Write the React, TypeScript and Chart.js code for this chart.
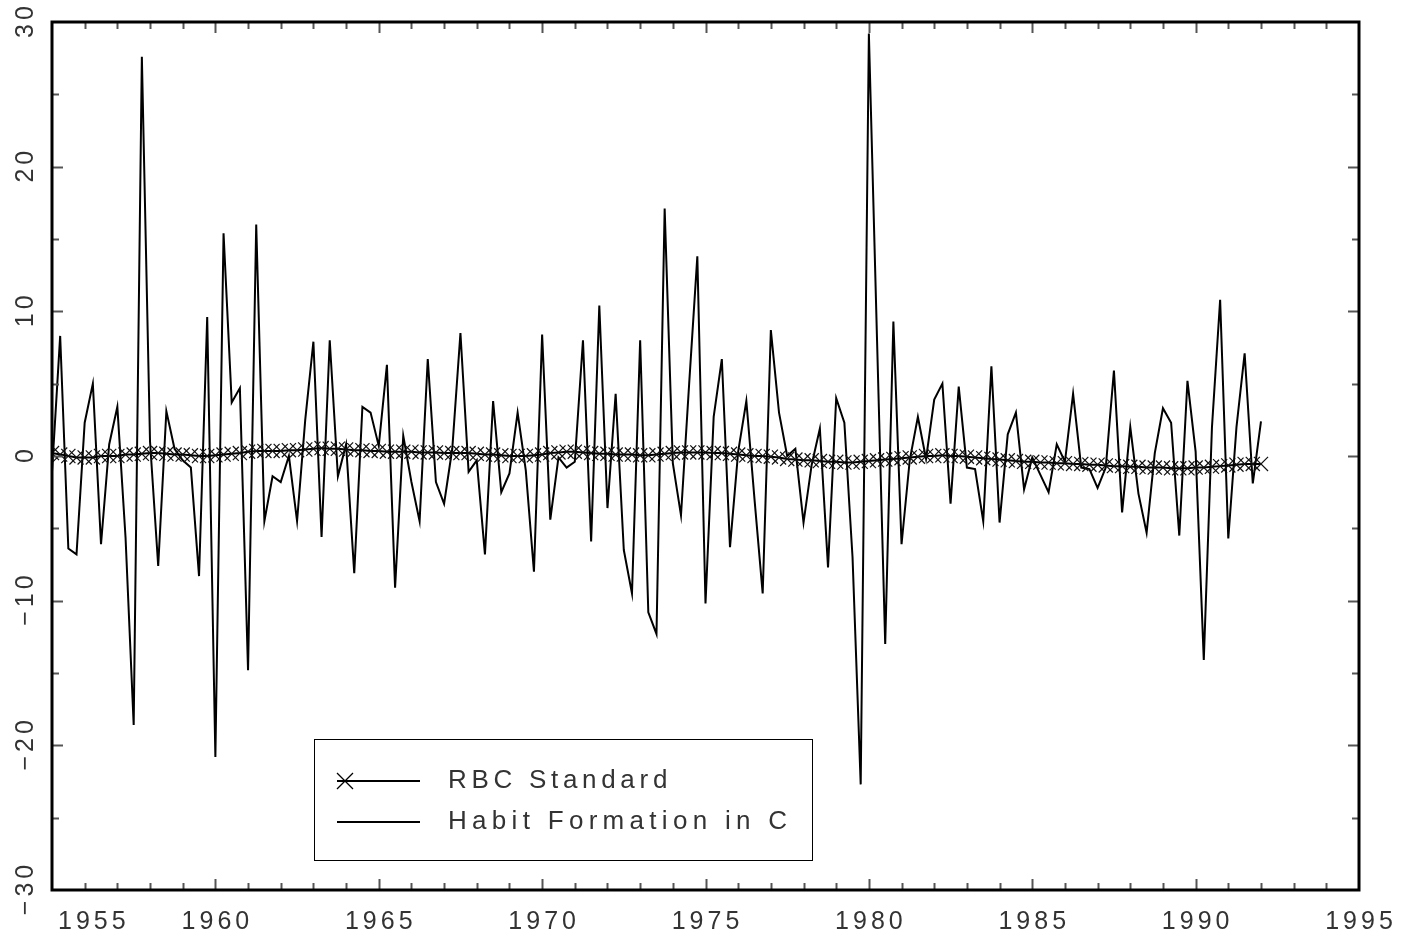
import React, { useEffect, useRef } from "react";
import { Chart, registerables } from "chart.js";

Chart.register(...registerables);

// ---- Data (quarterly, starting 1955Q1) ----
const START_YEAR = 1955;

const rbcStandard = [
  0.2, 0.1, 0.0, -0.1,
  -0.1, -0.1, 0.0, 0.0,
  0.0, 0.1, 0.1, 0.15,
  0.2, 0.2, 0.15, 0.1,
  0.1, 0.05, 0.0, 0.0,
  0.05, 0.1, 0.15, 0.2,
  0.3, 0.35, 0.35, 0.35,
  0.35, 0.4, 0.4, 0.45,
  0.5, 0.55, 0.5, 0.5,
  0.45, 0.4, 0.4, 0.35,
  0.35, 0.3, 0.3, 0.3,
  0.3, 0.25, 0.25, 0.25,
  0.2, 0.2, 0.2, 0.2,
  0.15, 0.1, 0.1, 0.05,
  0.0, 0.0, 0.0, 0.05,
  0.1, 0.2, 0.25, 0.3,
  0.3, 0.25, 0.2, 0.15,
  0.15, 0.1, 0.1, 0.1,
  0.05, 0.05, 0.1, 0.15,
  0.2, 0.25, 0.25, 0.25,
  0.25, 0.2, 0.2, 0.15,
  0.1, 0.05, 0.0, 0.0,
  -0.05, -0.1, -0.2, -0.25,
  -0.3, -0.3, -0.35, -0.4,
  -0.4, -0.45, -0.45, -0.4,
  -0.35, -0.3, -0.25, -0.2,
  -0.15, -0.1, -0.05, 0.0,
  0.0, 0.05, 0.0, 0.0,
  -0.05, -0.1, -0.15, -0.2,
  -0.25, -0.3, -0.35, -0.4,
  -0.4, -0.45, -0.45, -0.5,
  -0.5, -0.55, -0.55, -0.6,
  -0.6, -0.65, -0.7, -0.7,
  -0.75, -0.75, -0.8, -0.8,
  -0.8, -0.85, -0.85, -0.85,
  -0.8, -0.8, -0.75, -0.7,
  -0.65, -0.6, -0.55, -0.55,
  -0.55,
];

const habitFormation = [
  -1.1, 8.3, -6.4, -6.8,
  2.3, 5.0, -6.1, 0.8,
  3.4, -5.6, -18.6, 27.6,
  1.0, -7.6, 3.1, 0.5,
  -0.3, -0.8, -8.3, 9.6,
  -20.8, 15.4, 3.7, 4.7,
  -14.8, 16.0, -4.5, -1.4,
  -1.8, 0.0, -4.5, 2.5,
  7.9, -5.6, 8.0, -1.4,
  0.8, -8.1, 3.4, 3.0,
  0.7, 6.3, -9.1, 1.4,
  -1.8, -4.5, 6.7, -1.8,
  -3.3, 0.5, 8.5, -1.1,
  -0.3, -6.8, 3.8, -2.5,
  -1.2, 3.0, -1.0, -8.0,
  8.4, -4.4, -0.1, -0.8,
  -0.4, 8.0, -5.9, 10.4,
  -3.6, 4.3, -6.5, -9.5,
  8.0, -10.8, -12.3, 17.1,
  -0.5, -4.1, 5.0, 13.8,
  -10.2, 2.7, 6.7, -6.3,
  0.3, 3.8, -3.0, -9.5,
  8.7, 3.0, 0.0, 0.5,
  -4.6, -0.6, 1.9, -7.7,
  4.0, 2.3, -7.0, -22.7,
  29.2, 8.0, -13.0, 9.3,
  -6.1, -0.3, 2.7, -0.2,
  3.9, 5.0, -3.3, 4.8,
  -0.8, -0.9, -4.5, 6.2,
  -4.6, 1.5, 3.0, -2.3,
  -0.1, -1.3, -2.5, 0.8,
  -0.4, 4.3, -0.8, -0.9,
  -2.2, -0.8, 5.9, -3.9,
  2.0, -2.6, -5.3, 0.2,
  3.3, 2.3, -5.5, 5.2,
  0.3, -14.1, 2.0, 10.8,
  -5.7, 2.0, 7.1, -1.9,
  2.4,
];

const seriesLabels = ["RBC Standard", "Habit Formation in C"];
const xTickLabels = ["1955", "1960", "1965", "1970", "1975", "1980", "1985", "1990", "1995"];
const yTickValues = [-30, -20, -10, 0, 10, 20, 30];
const yTickLabels = ["\u221230", "\u221220", "\u221210", "0", "10", "20", "30"];

const quarterDates = habitFormation.map((_, i) => START_YEAR + i / 4);

const TEXT_FONT = '"Liberation Sans", Arial, sans-serif';

const decorPlugin = {
  id: "decor",
  afterDraw(chart: any) {
    const { ctx, chartArea: a } = chart;
    const xs = chart.scales.x;
    const ys = chart.scales.y;
    ctx.save();

    // inward tick marks
    ctx.strokeStyle = "#555";
    ctx.lineWidth = 2;
    const seg = (x1: number, y1: number, x2: number, y2: number) => {
      ctx.beginPath();
      ctx.moveTo(x1, y1);
      ctx.lineTo(x2, y2);
      ctx.stroke();
    };
    for (let yr = xs.min + 1; yr < xs.max; yr++) {
      const px = Math.round(xs.getPixelForValue(yr)) + 0.5;
      const len = yr % 5 === 0 ? 11 : 7;
      seg(px, a.bottom, px, a.bottom - len);
      seg(px, a.top, px, a.top + len);
    }
    for (let v = ys.min + 5; v < ys.max; v += 5) {
      const py = Math.round(ys.getPixelForValue(v)) + 0.5;
      const len = v % 10 === 0 ? 11 : 7;
      seg(a.left, py, a.left + len, py);
      seg(a.right, py, a.right - len, py);
    }

    // frame
    ctx.strokeStyle = "#000";
    ctx.lineWidth = 3;
    ctx.strokeRect(a.left, a.top, a.right - a.left, a.bottom - a.top);

    // x tick labels
    ctx.fillStyle = "#333";
    ctx.font = `25px ${TEXT_FONT}`;
    (ctx as any).letterSpacing = "4px";
    ctx.textAlign = "center";
    ctx.textBaseline = "middle";
    xTickLabels.forEach((lab) => {
      const w = ctx.measureText(lab).width;
      let px = xs.getPixelForValue(Number(lab)) + 2;
      px = Math.max(px, a.left + 6 + w / 2);
      ctx.fillText(lab, px, a.bottom + 32);
    });

    // y tick labels, rotated
    yTickValues.forEach((v, i) => {
      const py = ys.getPixelForValue(v);
      ctx.save();
      ctx.translate(a.left - 26, py);
      ctx.rotate(-Math.PI / 2);
      ctx.fillText(yTickLabels[i], 2, 0);
      ctx.restore();
    });

    // legend box
    const lx = 314, ly = 739, lw = 498, lh = 121;
    ctx.strokeStyle = "#000";
    ctx.lineWidth = 1;
    ctx.strokeRect(lx + 0.5, ly + 0.5, lw, lh);
    const rows = [781, 822];
    chart.data.datasets.forEach((ds: any, i: number) => {
      const ry = rows[i];
      ctx.strokeStyle = "#000";
      ctx.lineWidth = 2;
      seg(lx + 23, ry, lx + 106, ry);
      if (i === 0) {
        ctx.lineWidth = 1.2;
        const cx = lx + 31, h = 8;
        seg(cx - h, ry - h, cx + h, ry + h);
        seg(cx - h, ry + h, cx + h, ry - h);
      }
      ctx.fillStyle = "#333";
      ctx.font = `26px ${TEXT_FONT}`;
      (ctx as any).letterSpacing = i === 0 ? "4.7px" : "5.3px";
      ctx.textAlign = "left";
      ctx.textBaseline = "middle";
      ctx.fillText(ds.label, lx + 134, ry);
    });

    ctx.restore();
  },
};

export default function App() {
  const canvasRef = useRef<HTMLCanvasElement | null>(null);

  useEffect(() => {
    document.body.style.margin = "0";
    document.body.style.overflow = "hidden";
    const canvas = canvasRef.current;
    if (!canvas) return;

    const chart = new Chart(canvas, {
      type: "line",
      data: {
        datasets: [
          {
            label: seriesLabels[0],
            data: rbcStandard.map((v, i) => ({ x: quarterDates[i], y: v })),
            borderColor: "#000",
            borderWidth: 2,
            pointStyle: "crossRot",
            pointRadius: 10,
            pointBorderWidth: 1.2,
            pointBorderColor: "#111",
            pointBackgroundColor: "#111",
            tension: 0,
          },
          {
            label: seriesLabels[1],
            data: habitFormation.map((v, i) => ({ x: quarterDates[i], y: v })),
            borderColor: "#000",
            borderWidth: 2,
            pointRadius: 0,
            tension: 0,
          },
        ],
      },
      options: {
        animation: false,
        responsive: false,
        devicePixelRatio: 1,
        layout: { padding: { left: 52, top: 22, right: 58, bottom: 47 } },
        plugins: { legend: { display: false }, tooltip: { enabled: false } },
        scales: {
          x: { type: "linear", min: 1955, max: 1995, display: false },
          y: { type: "linear", min: -30, max: 30, display: false },
        },
        elements: { line: { borderJoinStyle: "miter" } },
      },
      plugins: [decorPlugin],
    });

    return () => chart.destroy();
  }, []);

  return (
    <div style={{ width: 1417, height: 937, background: "#fff" }}>
      <canvas ref={canvasRef} width={1417} height={937} style={{ display: "block" }} />
    </div>
  );
}
